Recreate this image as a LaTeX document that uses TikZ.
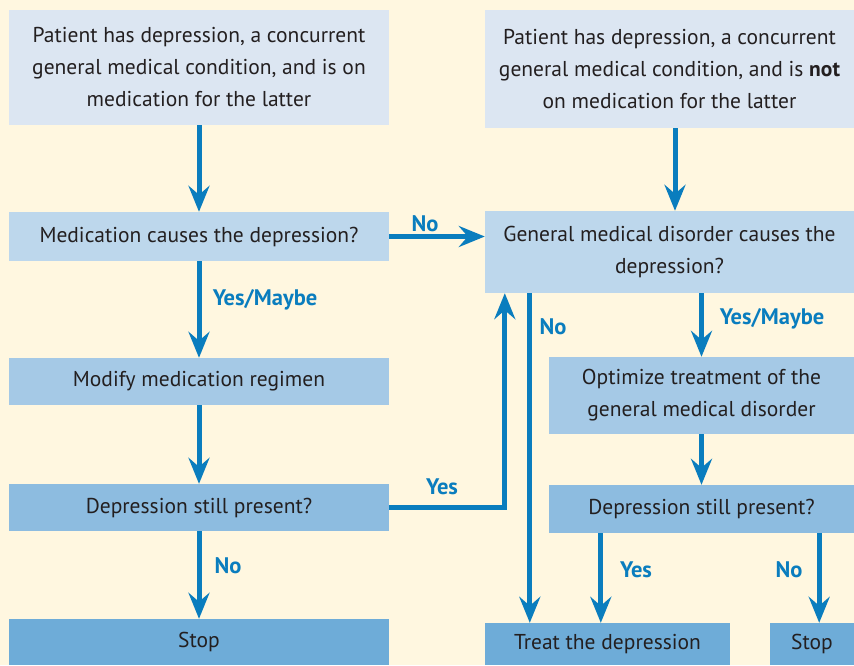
\documentclass[tikz,border=0pt]{standalone}
\usepackage{fontspec}
\setmainfont{PT Sans}
\usetikzlibrary{arrows.meta}
\definecolor{cream}{HTML}{FFF7E0}
\definecolor{tone1}{HTML}{DCE6F2}
\definecolor{tone2}{HTML}{BDD7EC}
\definecolor{tone3}{HTML}{A5C9E6}
\definecolor{tone4}{HTML}{8DBCE0}
\definecolor{tone5}{HTML}{6EACD8}
\definecolor{flow}{HTML}{0A7DBE}
\definecolor{ink}{HTML}{231F20}
\tikzset{
  box/.style={fill=#1, text=ink, align=center, inner sep=0pt,
    font=\fontsize{21.5}{32}\selectfont},
  arr/.style={draw=flow, line width=5pt,
    -{Stealth[length=26pt,width=21pt,inset=9pt]}},
  lbl/.style={text=flow, font=\fontsize{22.5}{26}\selectfont\bfseries},
}
\begin{document}
\begin{tikzpicture}[x=1pt,y=-1pt]
\fill[cream] (0,0) rectangle (854,665);
\useasboundingbox (0,0) rectangle (854,665);
% left column
\node[box=tone1, minimum width=380, minimum height=115] (medtop) at (199,67.5)
  {Patient has depression, a concurrent\\general medical condition, and is on\\medication for the latter};
\node[box=tone2, minimum width=380, minimum height=49] (medcause) at (199,236.5)
  {Medication causes the depression?};
\node[box=tone3, minimum width=380, minimum height=47] (modify) at (199,381.5)
  {Modify medication regimen};
\node[box=tone4, minimum width=380, minimum height=47] (stillL) at (199,507.5)
  {Depression still present?};
\node[box=tone5, minimum width=380, minimum height=46] (stopL) at (199,642)
  {Stop};
% right column
\node[box=tone1, minimum width=369, minimum height=118] (gentop) at (669.5,69)
  {Patient has depression, a concurrent\\general medical condition, and is \textbf{not}\\on medication for the latter};
\node[box=tone2, minimum width=369, minimum height=82] (gencause) at (669.5,252)
  {General medical disorder causes the\\depression?};
\node[box=tone3, minimum width=305, minimum height=77] (optim) at (701.5,395.5)
  {Optimize treatment of the\\general medical disorder};
\node[box=tone4, minimum width=305, minimum height=48] (stillR) at (701.5,509)
  {Depression still present?};
\node[box=tone5, minimum width=245, minimum height=42] (treat) at (607.5,644)
  {Treat the depression};
\node[box=tone5, minimum width=84, minimum height=42] (stopR) at (812,644)
  {Stop};
% connectors
\draw[arr] (medtop) -- (medcause);
\draw[arr] (medcause) -- (modify);
\draw[arr] (modify) -- (stillL);
\draw[arr] (stillL) -- (stopL);
\draw[arr] (medcause.east) -- (medcause.east -| gencause.west);
\draw[arr] (stillL.east) -| ([xshift=20]gencause.south west);
\draw[arr] (gentop.south -| 675,0) -- (gencause.north -| 675,0);
\draw[arr] ([xshift=45]gencause.south west) -- ([xshift=45]treat.north west);
\draw[arr] (optim.north |- gencause.south) -- (optim);
\draw[arr] (optim) -- (stillR);
\draw[arr] ([xshift=52]stillR.south west) -- ([xshift=52]stillR.south west |- treat.north);
\draw[arr] ([xshift=-35]stillR.south east) -- ([xshift=-35]stillR.south east |- stopR.north);
% labels
\node[lbl] (noA) at (425,224) {No};
\node[lbl] (yesA) at (265,300) {Yes/Maybe};
\node[lbl] (yesB) at (442,487) {Yes};
\node[lbl] (noB) at (228,566) {No};
\node[lbl] (noC) at (553,327) {No};
\node[lbl] (yesC) at (772,319) {Yes/Maybe};
\node[lbl] (yesD) at (636,570) {Yes};
\node[lbl] (noD) at (789,570) {No};
\end{tikzpicture}
\end{document}
